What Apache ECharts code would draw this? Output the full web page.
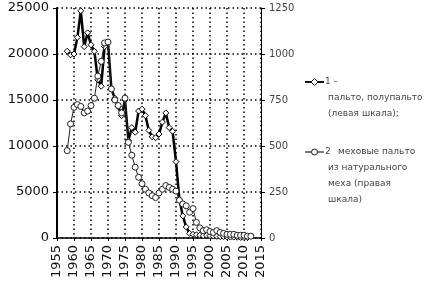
<!DOCTYPE html>
<html>
<head>
<meta charset="utf-8">
<script src="https://cdn.jsdelivr.net/npm/echarts@6/dist/echarts.min.js"></script>
<style>
  html, body { margin: 0; padding: 0; background: #fff; }
  #main { width: 439px; height: 284px; }
</style>
</head>
<body>
<div id="main"></div>
<script>
// years and values
var years1 = [1958,1959,1960,1961,1962,1963,1964,1965,1966,1967,1968,1969,1970,1971,1972,1973,1974,1975,1976,1977,1978,1979,1980,1981,1982,1983,1984,1985,1986,1987,1988,1989,1990,1991,1992,1993,1994,1995,1996,1997,1998,1999,2000,2001,2002,2003,2004,2005,2006,2007,2008,2009,2010,2011];
var coats = [20300,19900,20000,21800,24700,20800,22300,21000,20300,17200,16500,20800,21300,16200,15200,14300,13300,15000,10600,12000,11500,13800,14000,13300,11700,11000,10900,11300,12600,13600,12000,11600,8300,4200,2400,1200,500,400,350,300,250,300,250,200,180,150,150,120,100,100,80,60,50,40];

var years2 = [1958,1959,1960,1961,1962,1963,1964,1965,1966,1967,1968,1969,1970,1971,1972,1973,1974,1975,1976,1977,1978,1979,1980,1981,1982,1983,1984,1985,1986,1987,1988,1989,1990,1991,1992,1993,1994,1995,1996,1997,1998,1999,2000,2001,2002,2003,2004,2005,2006,2007,2008,2009,2010,2011,2012];
var furCoats = [475,620,710,725,715,680,690,720,760,880,960,1060,1065,810,750,720,680,760,520,450,385,330,295,265,245,230,220,245,265,285,275,265,255,205,185,175,140,160,85,55,40,45,35,30,40,30,25,20,20,20,15,15,15,10,10];

var leftTicks = [0, 25000, 5000];
var rightTicks = [0, 1250, 250];
var legend1 = ['1 –', 'пальто, полупальто', '(левая шкала);'];
var legend2 = ['2', 'меховые пальто', 'из натурального', 'меха (правая', 'шкала)'];

function pairs(xs, ys) {
    var out = [];
    for (var i = 0; i < xs.length; i++) out.push([xs[i], ys[i]]);
    return out;
}
function plain(v) { return String(v); }

var font = 'DejaVu Sans';

var graphics = [];
// legend item 1
graphics.push({ type: 'line', shape: { x1: 305, y1: 82, x2: 324, y2: 82 }, style: { stroke: '#111', lineWidth: 2 } });
graphics.push({ type: 'polygon', shape: { points: [[314.5, 78.5], [318, 82], [314.5, 85.5], [311, 82]] }, style: { fill: '#fff', stroke: '#111', lineWidth: 1 } });
graphics.push({ type: 'text', left: 325, top: 77, style: { text: legend1[0], font: '9px ' + font, fill: '#444' } });
graphics.push({ type: 'text', left: 328, top: 93, style: { text: legend1[1], font: '9px ' + font, fill: '#444' } });
graphics.push({ type: 'text', left: 328, top: 109, style: { text: legend1[2], font: '9px ' + font, fill: '#444' } });
// legend item 2
graphics.push({ type: 'line', shape: { x1: 305, y1: 152, x2: 324, y2: 152 }, style: { stroke: '#222', lineWidth: 1.2 } });
graphics.push({ type: 'circle', shape: { cx: 314.5, cy: 152, r: 3 }, style: { fill: '#fff', stroke: '#222', lineWidth: 1 } });
graphics.push({ type: 'text', left: 325, top: 147, style: { text: legend2[0], font: '9px ' + font, fill: '#444' } });
graphics.push({ type: 'text', left: 338, top: 147, style: { text: legend2[1], font: '9px ' + font, fill: '#444' } });
for (var k = 2; k < legend2.length; k++) {
    graphics.push({ type: 'text', left: 328, top: 147 + (k - 1) * 16, style: { text: legend2[k], font: '9px ' + font, fill: '#444' } });
}

var gridStyle = { color: '#000', type: [1.5, 3], width: 1.5 };

var option = {
    animation: false,
    backgroundColor: '#fff',
    grid: { left: 57, right: 178, top: 8, bottom: 46 },
    xAxis: {
        type: 'value',
        min: 1955, max: 2015, interval: 5,
        axisLine: { lineStyle: { color: '#000', width: 1.5 } },
        axisTick: { show: true, length: 3, lineStyle: { color: '#000' } },
        axisLabel: { rotate: 90, color: '#111', fontFamily: font, fontSize: 13, margin: 7, formatter: plain },
        splitLine: { show: true, lineStyle: gridStyle }
    },
    yAxis: [
        {
            type: 'value', position: 'left',
            min: leftTicks[0], max: leftTicks[1], interval: leftTicks[2],
            axisLine: { show: true, lineStyle: { color: '#000', width: 2 } },
            axisTick: { show: true, length: 4, lineStyle: { color: '#000' } },
            axisLabel: { color: '#111', fontFamily: font, fontSize: 13, margin: 8, formatter: plain },
            splitLine: { show: true, lineStyle: gridStyle }
        },
        {
            type: 'value', position: 'right',
            min: rightTicks[0], max: rightTicks[1], interval: rightTicks[2],
            axisLine: { show: true, lineStyle: { color: '#000', width: 1 } },
            axisTick: { show: true, length: 4, lineStyle: { color: '#000' } },
            axisLabel: { color: '#444', fontFamily: font, fontSize: 10, margin: 8, formatter: plain },
            splitLine: { show: false }
        }
    ],
    series: [
        {
            name: legend1[1], type: 'line', yAxisIndex: 0,
            data: pairs(years1, coats),
            symbol: 'diamond', symbolSize: 6,
            lineStyle: { color: '#000', width: 2.5 },
            itemStyle: { color: '#fff', borderColor: '#000', borderWidth: 1 },
            z: 3
        },
        {
            name: legend2[1], type: 'line', yAxisIndex: 1,
            data: pairs(years2, furCoats),
            symbol: 'circle', symbolSize: 6,
            lineStyle: { color: '#222', width: 1 },
            itemStyle: { color: '#fff', borderColor: '#222', borderWidth: 1 },
            z: 4
        }
    ],
    graphic: graphics
};

var myChart = echarts.init(document.getElementById('main'));
myChart.setOption(option);
</script>
</body>
</html>
